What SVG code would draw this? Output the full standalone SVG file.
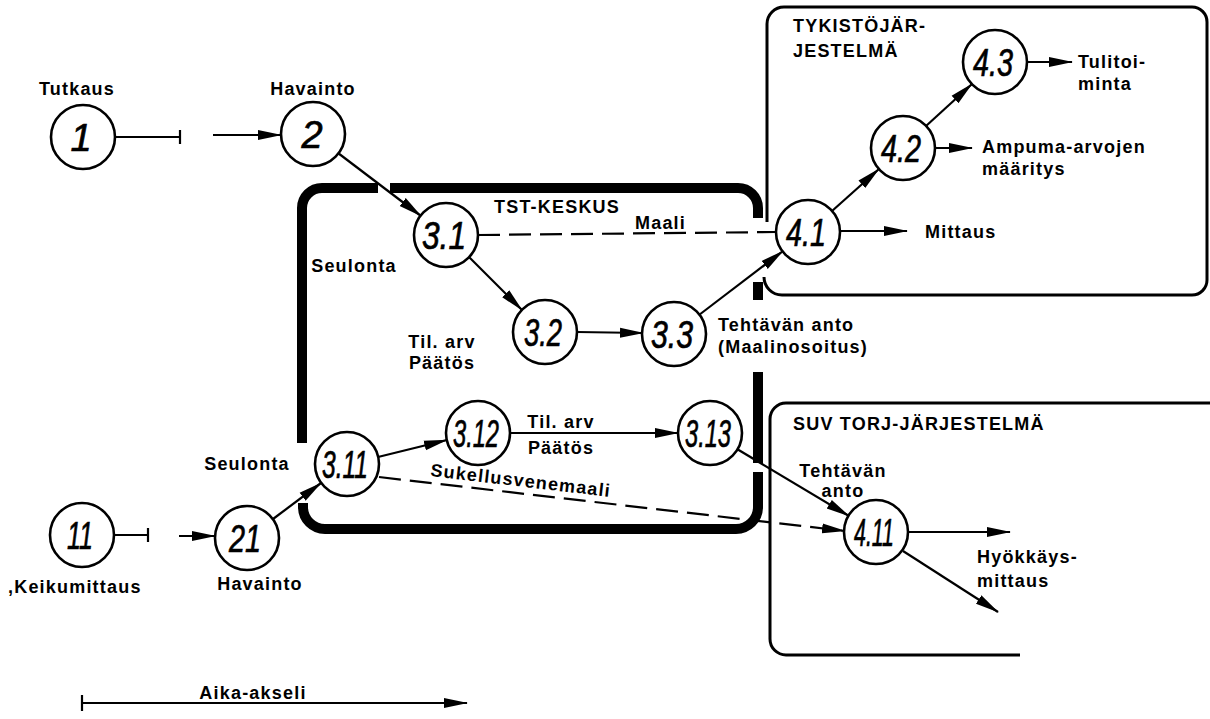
<svg xmlns="http://www.w3.org/2000/svg" width="1210" height="719" viewBox="0 0 1210 719">
<defs>
<marker id="ah" markerUnits="userSpaceOnUse" markerWidth="24" markerHeight="12" refX="23" refY="6" orient="auto">
<path d="M0,1 L24,6 L0,11 z" fill="#000"/>
</marker>
<style>
.n{fill:#fff;stroke:#000;stroke-width:2.6}
.num{font-family:"Liberation Sans",Arial,sans-serif;font-style:italic;font-size:38px;text-anchor:middle;fill:#000;stroke:#000;stroke-width:0.7}
.lb{font-family:"Liberation Sans",Arial,sans-serif;font-weight:bold;font-size:18px;letter-spacing:1.2px;fill:#000}
.c{fill:none;stroke:#000;stroke-width:2.2}
.a{fill:none;stroke:#000;stroke-width:2.2;marker-end:url(#ah)}
.d{fill:none;stroke:#000;stroke-width:2.2;stroke-dasharray:22 9}
.thick{fill:none;stroke:#000;stroke-width:10;stroke-linecap:butt}
.box{fill:none;stroke:#000;stroke-width:3}
</style>
</defs>
<rect width="1210" height="719" fill="#fff"/>

<g id="frames">
<path class="thick" d="M302,443 V208 A20,20 0 0 1 322,188 H378"/>
<path class="thick" d="M390,188 H738 A20,20 0 0 1 758,208 V218"/>
<path class="thick" d="M758,282 V300"/>
<path class="thick" d="M758,372 V463"/>
<path class="thick" d="M303,503 V507 A22,22 0 0 0 325,529 H736 A22,22 0 0 0 758,507 V472"/>
<path class="box" d="M767,222 V24 A17,17 0 0 1 784,7 H1192 A15,15 0 0 1 1207,22 V280 A15,15 0 0 1 1192,295 H782 A18,18 0 0 1 764,277"/>
<path class="box" d="M1210,403 H786 A16,16 0 0 0 770,419 V639 A16,16 0 0 0 786,655 H1020"/>
<text class="lb" x="557" y="213" text-anchor="middle">TST-KESKUS</text>
<text class="lb" x="793" y="32">TYKISTÖJÄR-</text>
<text class="lb" x="793" y="57">JESTELMÄ</text>
<text class="lb" x="793" y="430">SUV TORJ-JÄRJESTELMÄ</text>
</g>

<g id="connectors">
<line class="c" x1="114" y1="137" x2="180" y2="137"/>
<line class="c" x1="180" y1="130" x2="180" y2="144"/>
<line class="a" x1="213" y1="135" x2="281" y2="135"/>
<line class="a" x1="338" y1="153" x2="421" y2="216"/>
<line class="a" x1="469" y1="257" x2="522" y2="310"/>
<line class="a" x1="577" y1="332" x2="643" y2="333"/>
<line class="a" x1="699" y1="315" x2="783" y2="251"/>
<line class="d" x1="478" y1="235" x2="776" y2="232"/>
<line class="a" x1="832" y1="211" x2="879" y2="169"/>
<line class="a" x1="926" y1="126" x2="972" y2="84"/>
<line class="a" x1="1027" y1="62" x2="1072" y2="62"/>
<line class="a" x1="935" y1="148" x2="972" y2="148"/>
<line class="a" x1="840" y1="231" x2="907" y2="231"/>
<line class="c" x1="114" y1="535" x2="148" y2="535"/>
<line class="c" x1="148" y1="528" x2="148" y2="542"/>
<line class="a" x1="179" y1="536" x2="215" y2="536"/>
<line class="a" x1="273" y1="519" x2="321" y2="483"/>
<line class="a" x1="378" y1="457" x2="447" y2="440"/>
<line class="a" x1="510" y1="433" x2="678" y2="433"/>
<line class="a" x1="737" y1="449" x2="849" y2="516"/>
<line class="d" x1="379" y1="477" x2="845" y2="531" marker-end="url(#ah)"/>
<line class="a" x1="907" y1="532" x2="1010" y2="532"/>
<line class="a" x1="903" y1="551" x2="998" y2="612"/>
<line class="c" x1="82" y1="703" x2="466" y2="703"/>
<line class="c" x1="82" y1="695" x2="82" y2="711"/>
<line class="a" x1="420" y1="703" x2="467" y2="703"/>
<text class="lb" x="635" y="229" font-size="17">Maali</text>
<text class="lb" x="430" y="476" font-size="17" transform="rotate(6.6 430 476)">Sukellusvenemaali</text>
<text class="lb" x="253" y="699" text-anchor="middle">Aika-akseli</text>
</g>

<g id="n1">
<circle class="n" cx="83" cy="137" r="32"/>
<text class="num" x="81" y="151">1</text>
<text class="lb" x="77" y="95" text-anchor="middle">Tutkaus</text>
</g>
<g id="n2">
<circle class="n" cx="313" cy="134" r="32"/>
<text class="num" x="312" y="148">2</text>
<text class="lb" x="313" y="95" text-anchor="middle">Havainto</text>
</g>
<g id="n3_1">
<circle class="n" cx="446" cy="235" r="32"/>
<text class="num" x="444" y="249" textLength="44" lengthAdjust="spacingAndGlyphs">3.1</text>
<text class="lb" x="354" y="272" text-anchor="middle">Seulonta</text>
</g>
<g id="n3_2">
<circle class="n" cx="545" cy="332" r="32"/>
<text class="num" x="543" y="346" textLength="38" lengthAdjust="spacingAndGlyphs">3.2</text>
<text class="lb" x="442" y="348" text-anchor="middle">Til. arv</text>
<text class="lb" x="442" y="369" text-anchor="middle">Päätös</text>
</g>
<g id="n3_3">
<circle class="n" cx="674" cy="334" r="32"/>
<text class="num" x="672" y="348" textLength="42" lengthAdjust="spacingAndGlyphs">3.3</text>
<text class="lb" x="718" y="331">Tehtävän anto</text>
<text class="lb" x="718" y="353">(Maalinosoitus)</text>
</g>
<g id="n4_1">
<circle class="n" cx="808" cy="232" r="32"/>
<text class="num" x="806" y="246" textLength="40" lengthAdjust="spacingAndGlyphs">4.1</text>
<text class="lb" x="925" y="238">Mittaus</text>
</g>
<g id="n4_2">
<circle class="n" cx="903" cy="148" r="32"/>
<text class="num" x="901" y="162" textLength="40" lengthAdjust="spacingAndGlyphs">4.2</text>
<text class="lb" x="982" y="153">Ampuma-arvojen</text>
<text class="lb" x="982" y="175">määritys</text>
</g>
<g id="n4_3">
<circle class="n" cx="995" cy="62" r="32"/>
<text class="num" x="993" y="76" textLength="40" lengthAdjust="spacingAndGlyphs">4.3</text>
<text class="lb" x="1078" y="68">Tulitoi-</text>
<text class="lb" x="1078" y="90">minta</text>
</g>
<g id="n11">
<circle class="n" cx="82" cy="535" r="32"/>
<text class="num" x="80" y="549" textLength="26" lengthAdjust="spacingAndGlyphs">11</text>
<text class="lb" x="8" y="593">,Keikumittaus</text>
</g>
<g id="n21">
<circle class="n" cx="247" cy="538" r="32"/>
<text class="num" x="245" y="552" textLength="32" lengthAdjust="spacingAndGlyphs">21</text>
<text class="lb" x="260" y="590" text-anchor="middle">Havainto</text>
</g>
<g id="n3_11">
<circle class="n" cx="347" cy="464" r="32"/>
<text class="num" x="345" y="478" textLength="46" lengthAdjust="spacingAndGlyphs">3.11</text>
<text class="lb" x="247" y="470" text-anchor="middle">Seulonta</text>
</g>
<g id="n3_12">
<circle class="n" cx="478" cy="433" r="32"/>
<text class="num" x="476" y="447" textLength="46" lengthAdjust="spacingAndGlyphs">3.12</text>
</g>
<g id="n3_13">
<circle class="n" cx="710" cy="433" r="32"/>
<text class="num" x="708" y="447" textLength="46" lengthAdjust="spacingAndGlyphs">3.13</text>
<text class="lb" x="561" y="428" text-anchor="middle">Til. arv</text>
<text class="lb" x="561" y="454" text-anchor="middle">Päätös</text>
</g>
<g id="n4_11">
<circle class="n" cx="876" cy="532" r="32"/>
<text class="num" x="874" y="546" textLength="40" lengthAdjust="spacingAndGlyphs">4.11</text>
<text class="lb" x="843" y="477" text-anchor="middle">Tehtävän</text>
<text class="lb" x="843" y="497" text-anchor="middle">anto</text>
<text class="lb" x="977" y="563">Hyökkäys-</text>
<text class="lb" x="977" y="587">mittaus</text>
</g>
</svg>
